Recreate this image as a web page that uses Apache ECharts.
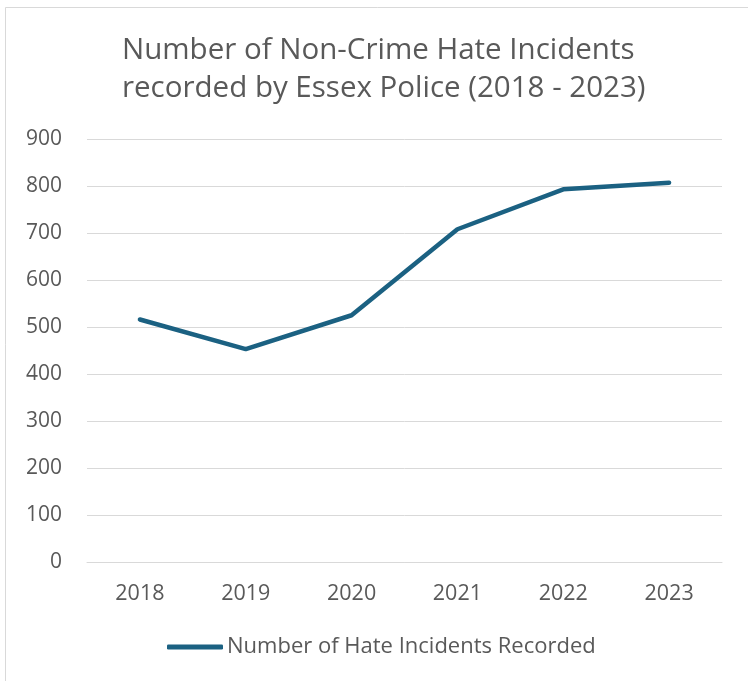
<!DOCTYPE html>
<html><head><meta charset="utf-8">
<script src="https://cdn.jsdelivr.net/npm/echarts@6/dist/echarts.min.js"></script>
<style>html,body{margin:0;padding:0;background:#fff}#c{width:748px;height:681px}</style>
</head><body><div id="c"></div>
<script>
const categories = ['2018','2019','2020','2021','2022','2023'];
const incidents = [516, 453, 525, 708, 793, 807];
const seriesName = 'Number of Hate Incidents Recorded';
const titleText = 'Number of Non-Crime Hate Incidents\nrecorded by Essex Police (2018 - 2023)';

const chart = echarts.init(document.getElementById('c'), null, {renderer:'canvas'});
const font = 'Open Sans';
chart.setOption({
  backgroundColor: '#fff',
  animation: false,
  graphic: [{type:'rect', shape:{x:5.5,y:7.5,width:760,height:700}, style:{fill:'none', stroke:'#d9d9d9', lineWidth:1}}],
  title: {text: titleText, left: 117, top: 27, padding:5,
    textStyle:{fontFamily:font, fontSize:29.5, fontWeight:'normal', color:'#595959', lineHeight:38}},
  legend: {bottom: 18, left: 162, itemWidth: 56, itemHeight: 5, itemGap: 4,
    padding:5,
    icon: 'roundRect',
    textStyle:{fontFamily:font, fontSize:22, color:'#595959', padding:[0,0,0,-1]},
    data:[seriesName]},
  grid: {left: 87, right: 26, top: 139, bottom: 119, containLabel:false},
  xAxis: {type:'category', data: categories, boundaryGap:true,
    axisLine:{show:true, lineStyle:{color:'#d9d9d9', width:1}},
    axisTick:{show:false},
    axisLabel:{fontFamily:font, fontSize:21.5, color:'#595959', margin:21}},
  yAxis: {type:'value', min:0, max:900, interval:100,
    axisLine:{show:false}, axisTick:{show:false},
    splitLine:{lineStyle:{color:'#d9d9d9', width:1}},
    axisLabel:{fontFamily:font, fontSize:21, color:'#595959', margin:25}},
  series: [{name: seriesName, type:'line', data: incidents, symbol:'none',
    lineStyle:{color:'#1b6182', width:4.5, cap:'round', join:'round'},
    itemStyle:{color:'#1b6182'}}]
});
</script></body></html>
